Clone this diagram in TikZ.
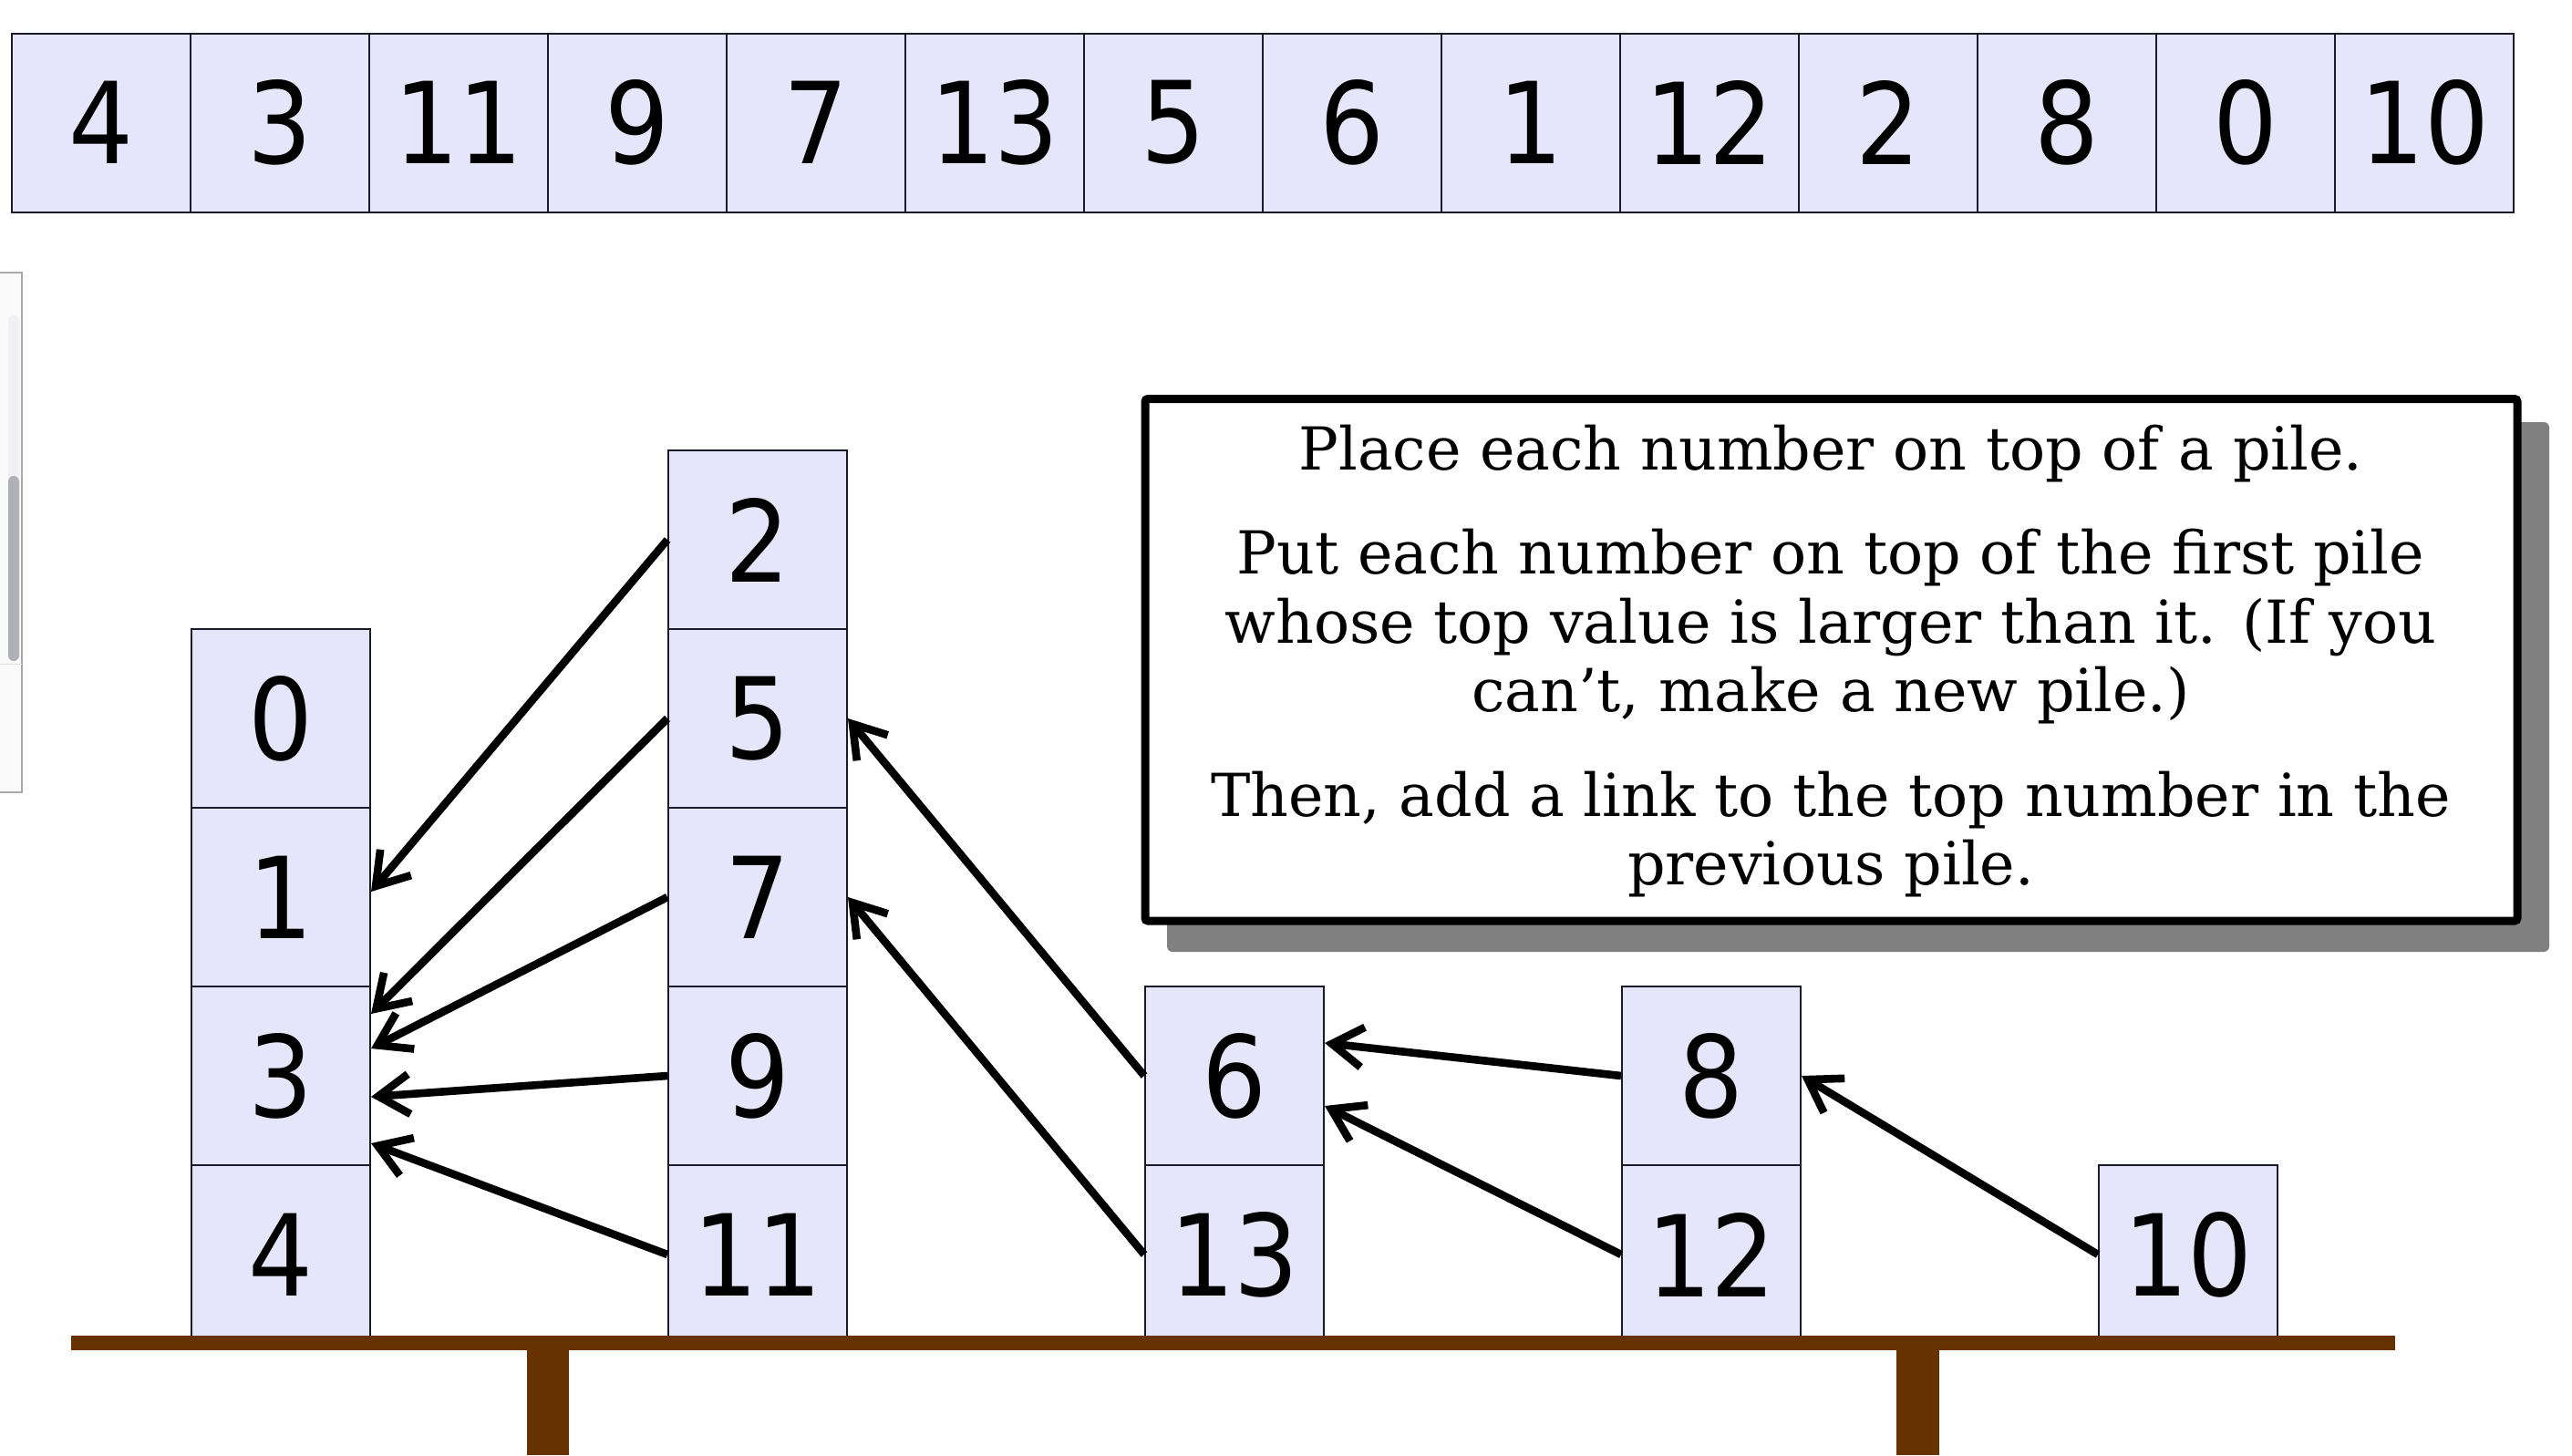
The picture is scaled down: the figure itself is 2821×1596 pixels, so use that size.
\documentclass[tikz,border=0pt]{standalone}
\usepackage{fontspec}
\usetikzlibrary{arrows.meta,calc}
\newfontfamily\numfont{DejaVu Sans Condensed}
\newfontfamily\notefont{DejaVu Serif}
\definecolor{boxfill}{HTML}{E6E6FA}
\definecolor{boxline}{HTML}{1A1A2A}
\definecolor{shelfbrown}{HTML}{663300}
\definecolor{shadowgray}{HTML}{808080}
\definecolor{panelfill}{HTML}{FAFAFA}
\definecolor{panelline}{HTML}{A8A8A8}
\definecolor{trackfill}{HTML}{F0F0F5}
\definecolor{thumbfill}{HTML}{B0B0B8}
\begin{document}
\begin{tikzpicture}[x=0.5pt,y=-0.5pt,
  numbox/.style={draw=boxline, line width=1pt, fill=boxfill,
    minimum width=98pt, minimum height=98pt, inner sep=0pt,
    font=\numfont\fontsize{62}{70}\selectfont},
  link/.style={line width=4.3pt, -{Straight Barb[length=17pt,width=22pt]}},
  notetext/.style={anchor=base, inner sep=0pt,
    font=\notefont\fontsize{32.5}{37.75}\selectfont},
  frame/.style={draw=black, line width=4.5pt, fill=white, rounded corners=1.5pt,
    minimum width=752.5pt, minimum height=286.25pt, inner sep=0pt}
]
\useasboundingbox (0,0) rectangle (2821,1596);
\fill[white] (0,0) rectangle (2821,1596);

% side panel (scrollbar) at the left edge
\fill[panelfill] (0,299) rectangle (24,869);
\draw[panelline, line width=0.8pt] (0,299) -- (24,299) -- (24,869) -- (0,869);
\fill[trackfill, rounded corners=3pt] (9,346) rectangle (21,725);
\fill[thumbfill, rounded corners=3pt] (9,522) rectangle (21,725);
\draw[gray!25, line width=0.5pt] (0,728) -- (24,728);

% top row of numbers
\foreach \v [count=\i from 0] in {4,3,11,9,7,13,5,6,1,12,2,8,0,10}
  \node[numbox] (t\i) at (111+196*\i, 134.5) {\v};

% piles
\node[numbox] (v4)  at (308,1376) {4};
\node[numbox] (v3)  at (308,1180) {3};
\node[numbox] (v1)  at (308,984)  {1};
\node[numbox] (v0)  at (308,788)  {0};

\node[numbox] (v11) at (831,1376) {11};
\node[numbox] (v9)  at (831,1180) {9};
\node[numbox] (v7)  at (831,984)  {7};
\node[numbox] (v5)  at (831,788)  {5};
\node[numbox] (v2)  at (831,592)  {2};

\node[numbox] (v13) at (1354,1376) {13};
\node[numbox] (v6)  at (1354,1180) {6};

\node[numbox] (v12) at (1877,1376) {12};
\node[numbox] (v8)  at (1877,1180) {8};

\node[numbox] (v10) at (2400,1376) {10};

% shelf
\fill[shelfbrown] (78,1465) rectangle (2627,1481);
\fill[shelfbrown] (578,1481) rectangle (624,1596);
\fill[shelfbrown] (2080,1481) rectangle (2127,1596);

% links
\draw[link] (v2.west)  -- ($(v1.east)+(0,-6)$);
\draw[link] (v5.west)  -- ($(v3.east)+(0,-68)$);
\draw[link] (v7.west)  -- ($(v3.east)+(0,-30)$);
\draw[link] (v9.west)  -- ($(v3.east)+(0,23)$);
\draw[link] (v11.west) -- ($(v3.east)+(0,74)$);
\draw[link] (v6.west)  -- (v5.east);
\draw[link] (v13.west) -- (v7.east);
\draw[link] (v8.west)  -- ($(v6.east)+(0,-36)$);
\draw[link] (v12.west) -- ($(v6.east)+(0,33)$);
\draw[link] (v10.west) -- (v8.east);

% instruction box with shadow
\fill[shadowgray, rounded corners=3pt] (1280,463) rectangle (2796,1044);
\node[frame] (frame) at (2008.5,723.75) {};
\node[notetext] (note) at (2008,515) {\begin{tabular}[t]{@{}c@{}}
Place each number on top of a pile.\\[19.5pt]
Put each number on top of the first pile\\
whose top value is larger than it. (If you\\
can’t, make a new pile.)\\[19.5pt]
Then, add a link to the top number in the\\
previous pile.
\end{tabular}};
\end{tikzpicture}
\end{document}
